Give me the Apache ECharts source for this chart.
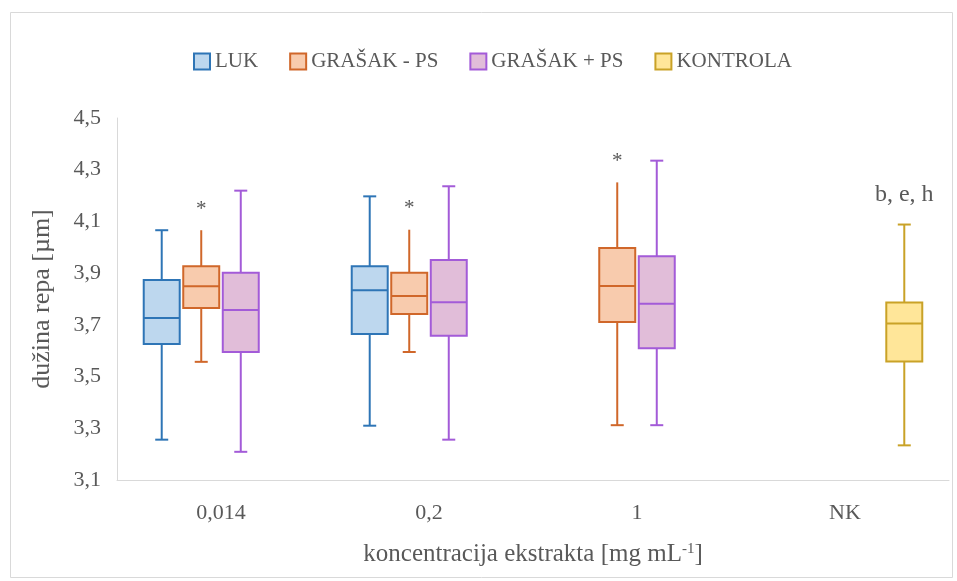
<!DOCTYPE html>
<html>
<head>
<meta charset="utf-8">
<script src="https://cdn.jsdelivr.net/npm/echarts@6/dist/echarts.min.js"></script>
<style>html,body{margin:0;padding:0;background:#fff;}#c{width:957px;height:581px;}</style>
</head>
<body>
<div id="c"></div>
<script>
// ---- data ----
const categories = ['0,014', '0,2', '1', 'NK'];
const seriesNames = ['LUK', 'GRAŠAK - PS', 'GRAŠAK + PS', 'KONTROLA'];
// five-number summaries per category: [min, q1, median, q3, max]
const luk      = [[3.256, 3.626, 3.727, 3.873, 4.066], [3.310, 3.665, 3.834, 3.927, 4.197], null, null];
const grasakMinusPS = [[3.557, 3.765, 3.849, 3.927, 4.066], [3.595, 3.742, 3.812, 3.902, 4.068], [3.312, 3.711, 3.850, 3.997, 4.251], null];
const grasakPlusPS  = [[3.209, 3.595, 3.757, 3.902, 4.219], [3.256, 3.658, 3.787, 3.951, 4.236], [3.312, 3.610, 3.782, 3.965, 4.335], null];
const kontrola = [null, null, null, [3.234, 3.558, 3.705, 3.786, 4.088]];
// annotations above whiskers
const lukNotes = ['', '', '', ''];
const grasakMinusNotes = ['*', '*', '*', ''];
const grasakPlusNotes = ['', '', '', ''];
const kontrolaNotes = ['', '', '', 'b, e, h'];
const yTicks = { min: 3.1, max: 4.5, step: 0.2 };

// ---- styles ----
const FONT = 'Liberation Serif';
const TEXT = '#595959';
const styles = [
  { fill: '#BDD7EE', stroke: '#2E75B6', topCap: true },
  { fill: '#F8CBAD', stroke: '#D0672A', topCap: false },
  { fill: '#E1BDD9', stroke: '#A35BD8', topCap: true },
  { fill: '#FFE699', stroke: '#C9A227', topCap: true }
];
const allData = [luk, grasakMinusPS, grasakPlusPS, kontrola];
const allNotes = [lukNotes, grasakMinusNotes, grasakPlusNotes, kontrolaNotes];

const SLOT = 0.19, BOX = 0.173, CAP = 0.0625;

function makeRender(si) {
  const st = styles[si];
  return function (params, api) {
    const cat = api.value(0);
    const v = [api.value(1), api.value(2), api.value(3), api.value(4), api.value(5)];
    const band = api.size([1, 0])[0];
    const cx = api.coord([cat, v[2]])[0] + (si - 1.5) * band * SLOT;
    const y = v.map(val => api.coord([cat, val])[1]);
    const bw = band * BOX, cw = band * CAP;
    const line = (x1, y1, x2, y2) => ({
      type: 'line', shape: { x1, y1, x2, y2 },
      style: { stroke: st.stroke, lineWidth: 2 }
    });
    const children = [
      line(cx, y[3], cx, y[4]),
      line(cx, y[1], cx, y[0]),
      line(cx - cw / 2, y[0], cx + cw / 2, y[0]),
      {
        type: 'rect', shape: { x: cx - bw / 2, y: y[3], width: bw, height: y[1] - y[3] },
        style: { fill: st.fill, stroke: st.stroke, lineWidth: 2 }
      },
      line(cx - bw / 2, y[2], cx + bw / 2, y[2])
    ];
    if (st.topCap) children.push(line(cx - cw / 2, y[4], cx + cw / 2, y[4]));
    const note = allNotes[si][cat];
    if (note) {
      const isStar = note === '*';
      children.push({
        type: 'text',
        style: {
          text: note, x: cx, y: y[4] - (isStar ? 21 : 30),
          align: 'center', verticalAlign: 'middle',
          font: (isStar ? '21px ' : '24px ') + '"' + FONT + '"', fill: TEXT
        }
      });
    }
    return { type: 'group', children };
  };
}

const series = seriesNames.map((name, si) => ({
  name, type: 'custom',
  renderItem: makeRender(si),
  itemStyle: { color: styles[si].fill, borderColor: styles[si].stroke },
  encode: { x: 0, y: [1, 2, 3, 4, 5] },
  data: allData[si].map((d, ci) => d ? [ci].concat(d) : null).filter(Boolean),
  clip: false
}));

const chart = echarts.init(document.getElementById('c'));
chart.setOption({
  animation: false,
  backgroundColor: '#fff',
  graphic: [{
    type: 'rect', silent: true, z: -10,
    shape: { x: 10.5, y: 12.5, width: 942, height: 565 },
    style: { fill: 'none', stroke: '#D9D9D9', lineWidth: 1 }
  }],
  legend: {
    left: 188, top: 46,
    icon: 'rect', itemWidth: 16, itemHeight: 16, itemGap: 31,
    textStyle: { fontFamily: FONT, fontSize: 21, color: TEXT },
    data: seriesNames.map((n, i) => ({
      name: n, itemStyle: { color: styles[i].fill, borderColor: styles[i].stroke, borderWidth: 2 }
    }))
  },
  grid: { left: 117, right: 8, top: 118, bottom: 101, containLabel: false },
  xAxis: {
    type: 'category', data: categories,
    axisLine: { show: true, lineStyle: { color: '#D9D9D9', width: 1 } },
    axisTick: { show: false },
    axisLabel: { fontFamily: FONT, fontSize: 22, color: TEXT, margin: 22 },
    name: '{a|koncentracija ekstrakta [mg mL}{s|-1}{a|]}',
    nameLocation: 'middle', nameGap: 62,
    nameTextStyle: {
      fontFamily: FONT, fontSize: 25, color: TEXT,
      rich: {
        a: { fontFamily: FONT, fontSize: 25, color: TEXT, verticalAlign: 'bottom' },
        s: { fontFamily: FONT, fontSize: 15, color: TEXT, verticalAlign: 'top' }
      }
    }
  },
  yAxis: {
    type: 'value', min: yTicks.min, max: yTicks.max, interval: yTicks.step,
    axisLine: { show: true, lineStyle: { color: '#D9D9D9', width: 1 } },
    axisTick: { show: false },
    splitLine: { show: false },
    axisLabel: {
      fontFamily: FONT, fontSize: 22, color: TEXT, margin: 16,
      formatter: v => v.toFixed(1).replace('.', ',')
    },
    name: 'dužina repa [µm]', nameLocation: 'middle', nameGap: 62,
    nameTextStyle: { fontFamily: FONT, fontSize: 26, color: TEXT }
  },
  series
});
</script>
</body>
</html>
